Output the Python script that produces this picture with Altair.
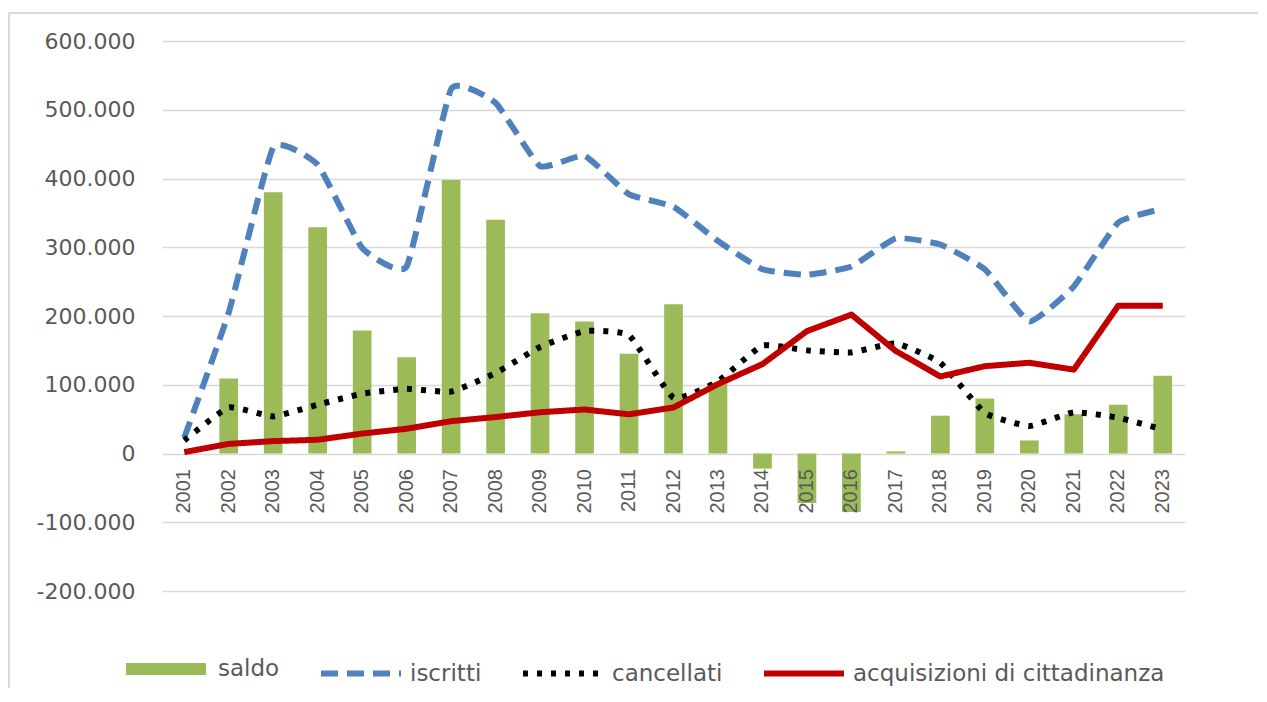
import altair as alt
import pandas as pd

years = [str(y) for y in range(2001, 2024)]
saldo = [None, 109000, 380000, 329000, 179000, 140000, 398000, 340000, 204000, 192000,
         145000, 217000, 103000, -22000, -72000, -85000, 3000, 55000, 80000, 19000,
         57000, 71000, 113000]
iscritti = [23000, 205000, 445000, 420000, 299000, 272000, 530000, 510000, 418000, 433000,
            377000, 359000, 309000, 268000, 260000, 272000, 313000, 304000, 268000, 192000,
            243000, 336000, 356000]
cancellati = [19000, 67000, 54000, 71000, 87000, 94000, 90000, 117000, 155000, 178000,
              172000, 81000, 105000, 157000, 150000, 147000, 160000, 132000, 59000, 40000,
              60000, 52000, 35000]
acquisizioni = [2000, 14000, 18000, 20000, 29000, 36000, 47000, 53000, 60000, 64000,
                57000, 67000, 101000, 130000, 178000, 202000, 149000, 112000, 127000, 132000,
                122000, 215000, 215000]

series_names = ["saldo", "iscritti", "cancellati", "acquisizioni di cittadinanza"]
series_colors = ["#9BBB59", "#4F81BD", "#000000", "#C00000"]
series_dash = [[1, 0], [17, 9], [5, 9], [1, 0]]
series_width = [12, 6, 6, 6]
y_ticks = list(range(-200000, 600001, 100000))

rows = []
for name, vals in zip(series_names, [saldo, iscritti, cancellati, acquisizioni]):
    for yr, v in zip(years, vals):
        if v is not None:
            rows.append({"year": yr, "series": name, "value": v})
df = pd.DataFrame(rows)

TEXT = "#595959"
GRID = "#D9D9D9"

x_enc = alt.X(
    "year:O",
    sort=years,
    scale=alt.Scale(paddingInner=0.58, paddingOuter=0.29),
    axis=alt.Axis(
        orient="bottom", offset=-137.5, labelAngle=-90, ticks=False, domain=False,
        labelPadding=15, labelFont="Liberation Sans",
        labelFontSize=20, labelColor=TEXT, title=None, grid=False, zindex=1,
    ),
)
y_enc = alt.Y(
    "value:Q",
    scale=alt.Scale(domain=[-200000, 600000], nice=False),
    axis=alt.Axis(
        values=y_ticks, title=None, domain=False, ticks=False, labelPadding=27,
        labelExpr="datum.value == 0 ? '0' : (datum.value / 1000) + '.000'",
        labelFont="DejaVu Sans", labelFontSize=22, labelColor=TEXT,
        gridColor=GRID, gridWidth=1.5, zindex=0,
    ),
)
color_enc = alt.Color(
    "series:N",
    scale=alt.Scale(domain=series_names, range=series_colors),
    legend=alt.Legend(title=None),
)
dash_enc = alt.StrokeDash(
    "series:N",
    scale=alt.Scale(type="ordinal", domain=series_names, range=series_dash),
    legend=alt.Legend(title=None),
)
width_enc = alt.StrokeWidth(
    "series:N",
    scale=alt.Scale(type="ordinal", domain=series_names, range=series_width),
    legend=alt.Legend(title=None),
)

base = alt.Chart(df).encode(x=x_enc, y=y_enc, color=color_enc,
                            strokeDash=dash_enc, strokeWidth=width_enc)

bars = base.mark_bar().transform_filter(alt.datum.series == "saldo")
line_isc = base.mark_line(interpolate="cardinal", tension=0.6, strokeCap="butt").transform_filter(
    alt.datum.series == "iscritti")
line_can = base.mark_line(interpolate="cardinal", tension=0.6, strokeCap="butt").transform_filter(
    alt.datum.series == "cancellati")
line_acq = base.mark_line(interpolate="linear", strokeJoin="round").transform_filter(
    alt.datum.series == "acquisizioni di cittadinanza")

frame = alt.Chart(pd.DataFrame({"f": [0]})).mark_rect(
    filled=False, stroke=GRID, strokeWidth=2
).encode(x=alt.value(-153), x2=alt.value(1150), y=alt.value(-28), y2=alt.value(720))

chart = alt.layer(frame, bars, line_isc, line_can, line_acq).properties(
    width=1023, height=550,
    autosize=alt.AutoSizeParams(type="none"),
    padding={"left": 154, "top": 33, "right": 73, "bottom": 97},
).configure_view(stroke=None).configure_legend(
    orient="none", legendX=-42, legendY=582, direction="horizontal",
    symbolType="stroke", symbolSize=6400, labelFont="DejaVu Sans",
    labelFontSize=23, labelColor=TEXT, labelOffset=6, columnPadding=29,
    labelLimit=400, padding=0, symbolOpacity=1,
)

chart.save("out.html", embed_options={"renderer": "svg", "actions": False})
